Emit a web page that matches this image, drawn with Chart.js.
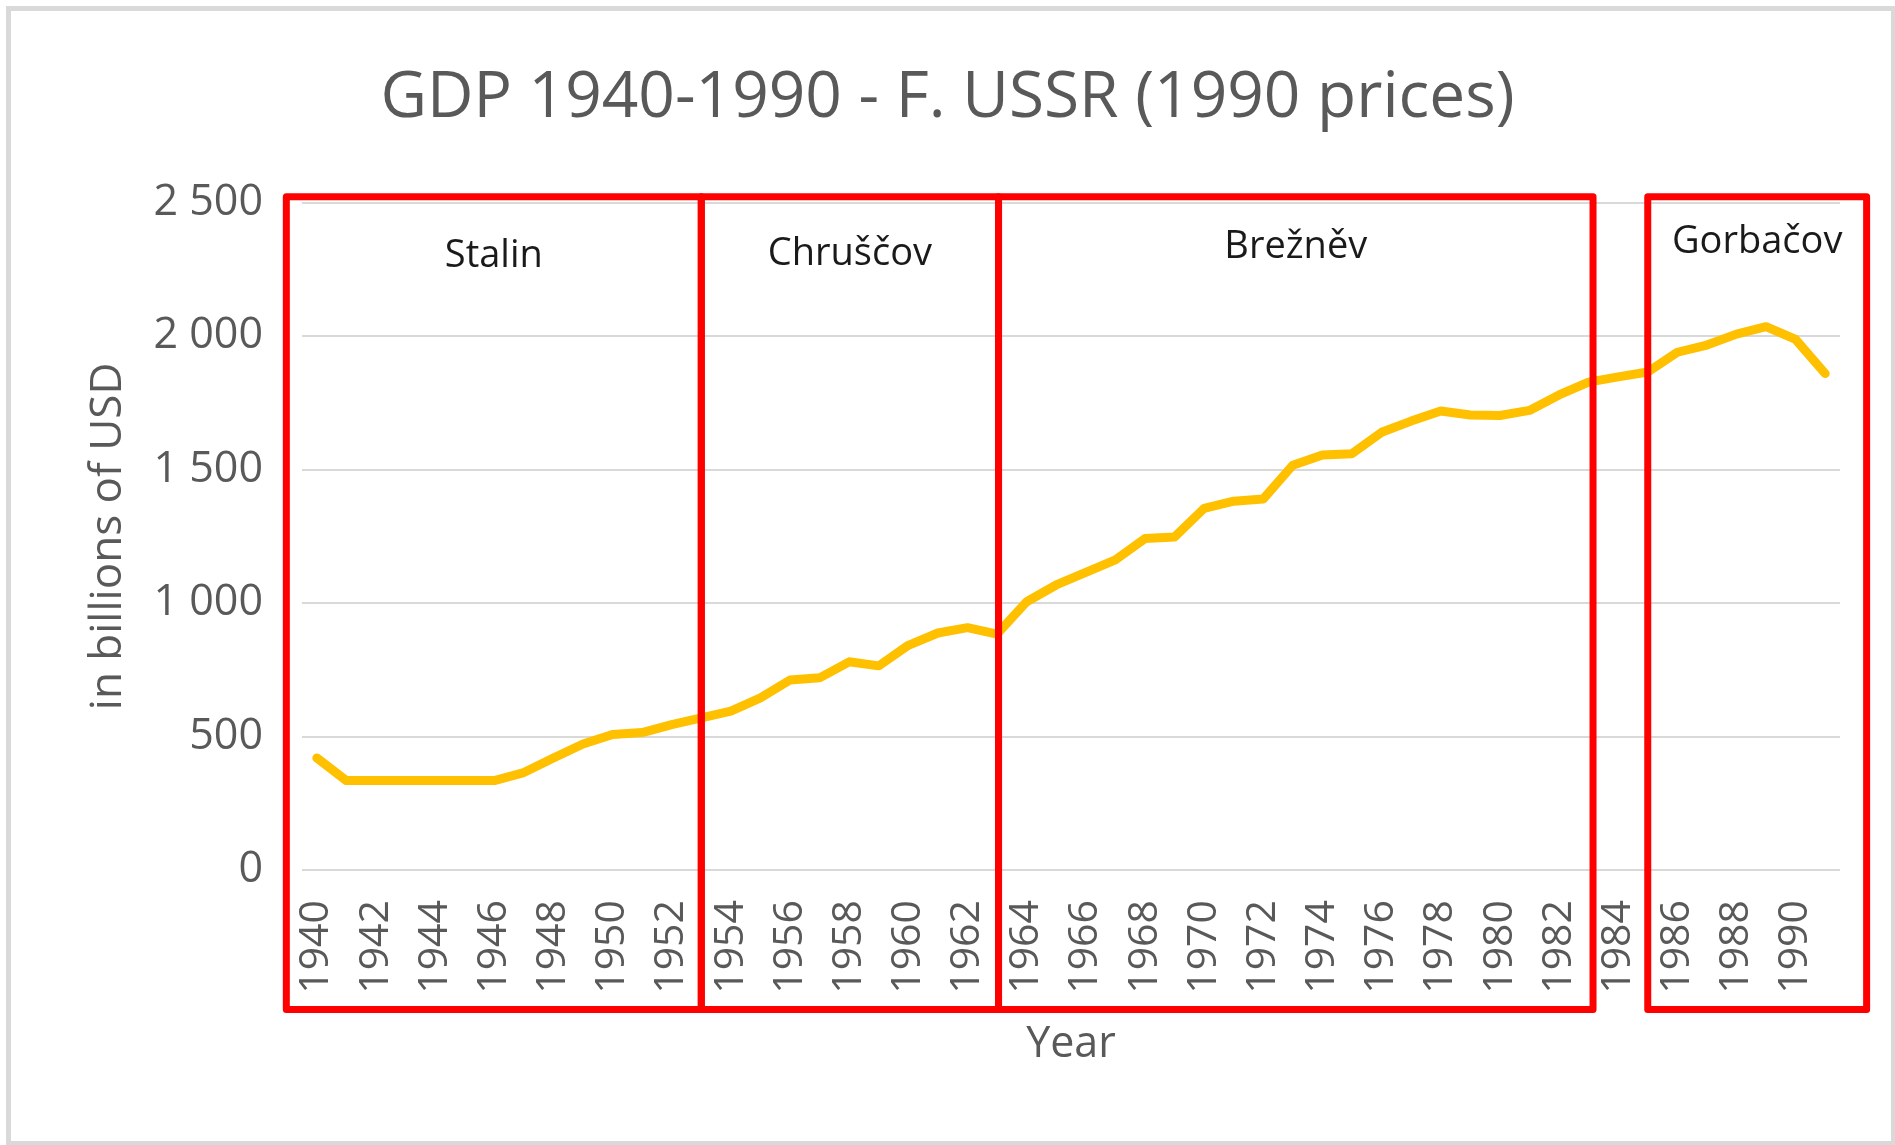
<!DOCTYPE html>
<html>
<head>
<meta charset="utf-8">
<title>GDP 1940-1990 - F. USSR (1990 prices)</title>
<script src="https://cdn.jsdelivr.net/npm/chart.js@4.4.1/dist/chart.umd.min.js"></script>
<style>
    html, body { margin: 0; padding: 0; background: #fff; }
    canvas { display: block; }
</style>
</head>
<body>
<canvas id="gdpChart" width="1895" height="1145"></canvas>
<script>
// years on the category axis (only even years get a label)
var years = [
    1940, 1941, 1942, 1943, 1944, 1945, 1946, 1947, 1948, 1949,
    1950, 1951, 1952, 1953, 1954, 1955, 1956, 1957, 1958, 1959,
    1960, 1961, 1962, 1963, 1964, 1965, 1966, 1967, 1968, 1969,
    1970, 1971, 1972, 1973, 1974, 1975, 1976, 1977, 1978, 1979,
    1980, 1981, 1982, 1983, 1984, 1985, 1986, 1987, 1988, 1989,
    1990, 1991
];

// GDP in billions of USD (1990 prices)
var gdp = [
    420, 335, 335, 335, 335, 335, 335, 365, 420, 472,
    508, 515, 545, 570, 595, 645, 712, 720, 780, 765,
    842, 888, 908, 884, 1005, 1068, 1115, 1162, 1242, 1248,
    1355, 1382, 1390, 1517, 1555, 1560, 1640, 1682, 1720, 1705,
    1703, 1722, 1780, 1828, 1848, 1866, 1940, 1967, 2008, 2036,
    1988, 1860
];

var yTickLabels = ['0', '500', '1 000', '1 500', '2 000', '2 500'];

// leaders and the span of their red frame (in years)
var periodNames = ['Stalin', 'Chruščov', 'Brežněv', 'Gorbačov'];
var periodStart = [1938.97, 1953, 1963.05, 1985];
var periodEnd = [1953, 1963.05, 1983.15, 1992.4];

var fontFamily = "'Open Sans', 'Noto Sans', sans-serif";
var textGrey = '#595959';

// white background + light grey outer frame like the Excel chart area
var chartFrame = {
    id: 'chartFrame',
    beforeDraw: function (chart) {
        var ctx = chart.ctx;
        ctx.save();
        ctx.fillStyle = '#ffffff';
        ctx.fillRect(0, 0, chart.width, chart.height);
        ctx.strokeStyle = '#d9d9d9';
        ctx.lineWidth = 5;
        ctx.strokeRect(8.5, 8.5, chart.width - 10, chart.height - 10);
        ctx.restore();
    }
};

// red boxes marking each leader's period, drawn over the line
var periodBoxes = {
    id: 'periodBoxes',
    afterDatasetsDraw: function (chart, args, opts) {
        var ctx = chart.ctx;
        var xs = chart.scales.x;
        var ys = chart.scales.y;
        var top = ys.getPixelForValue(opts.boxTop);
        var bottom = ys.getPixelForValue(opts.boxBottom);
        ctx.save();
        ctx.strokeStyle = opts.color;
        ctx.lineWidth = opts.lineWidth;
        ctx.lineJoin = 'round';
        ctx.font = opts.fontSize + 'px ' + fontFamily;
        ctx.fillStyle = opts.labelColor;
        ctx.textAlign = 'center';
        ctx.textBaseline = 'middle';
        periodNames.forEach(function (name, i) {
            var left = xs.getPixelForValue(periodStart[i] - years[0]);
            var right = xs.getPixelForValue(periodEnd[i] - years[0]);
            ctx.strokeRect(left, top, right - left, bottom - top);
            ctx.fillText(name, (left + right) / 2, ys.getPixelForValue(opts.labelLevels[i]));
        });
        ctx.restore();
    }
};

var ctxGdp = document.getElementById('gdpChart');

new Chart(ctxGdp, {
    type: 'line',
    data: {
        labels: years.map(String),
        datasets: [{
            label: 'GDP',
            data: gdp,
            borderColor: '#ffc000',
            backgroundColor: '#ffc000',
            borderWidth: 9,
            borderCapStyle: 'round',
            borderJoinStyle: 'round',
            pointRadius: 0,
            tension: 0,
            fill: false
        }]
    },
    options: {
        responsive: false,
        animation: false,
        layout: { padding: 0 },
        scales: {
            x: {
                offset: true,
                grid: { display: false, drawTicks: false },
                border: { display: false },
                ticks: {
                    autoSkip: false,
                    minRotation: 90,
                    maxRotation: 90,
                    padding: 30,
                    color: textGrey,
                    font: { family: fontFamily, size: 41 },
                    callback: function (value, index) {
                        return years[index] % 2 === 0 ? String(years[index]) : '';
                    }
                },
                title: {
                    display: true,
                    text: 'Year',
                    color: textGrey,
                    font: { family: fontFamily, size: 43 },
                    padding: { top: 0, bottom: 74 }
                },
                afterFit: function (scale) {
                    scale.height = 275;
                    // rotated labels would otherwise push the plot area in from the sides
                    scale.paddingLeft = 0;
                    scale.paddingRight = 0;
                }
            },
            y: {
                min: 0,
                max: 2500,
                grid: { color: '#d9d9d9', lineWidth: 2, drawTicks: false },
                border: { display: false },
                ticks: {
                    stepSize: 500,
                    padding: 39,
                    color: textGrey,
                    font: { family: fontFamily, size: 43 },
                    callback: function (value, index) { return yTickLabels[index]; }
                },
                title: {
                    display: true,
                    text: 'in billions of USD',
                    color: textGrey,
                    font: { family: fontFamily, size: 44 },
                    padding: { top: 82, bottom: 0 }
                },
                afterFit: function (scale) { scale.width = 302; }
            },
            // empty axis on the right, only keeps a margin so the title stays centred on the canvas
            yMargin: {
                position: 'right',
                grid: { display: false, drawTicks: false },
                border: { display: false },
                ticks: { display: false },
                afterFit: function (scale) { scale.width = 55; }
            }
        },
        plugins: {
            legend: { display: false },
            tooltip: { enabled: false },
            title: {
                display: true,
                text: 'GDP 1940-1990 - F. USSR (1990 prices)',
                color: textGrey,
                font: { family: fontFamily, size: 64, weight: 'normal' },
                padding: { top: 60, bottom: 66 }
            },
            periodBoxes: {
                color: '#ff0000',
                lineWidth: 7,
                labelColor: '#1a1a1a',
                fontSize: 38,
                boxTop: 2523,
                boxBottom: -523,
                labelLevels: [2300, 2306, 2333, 2351]
            }
        }
    },
    plugins: [chartFrame, periodBoxes]
});
</script>
</body>
</html>
